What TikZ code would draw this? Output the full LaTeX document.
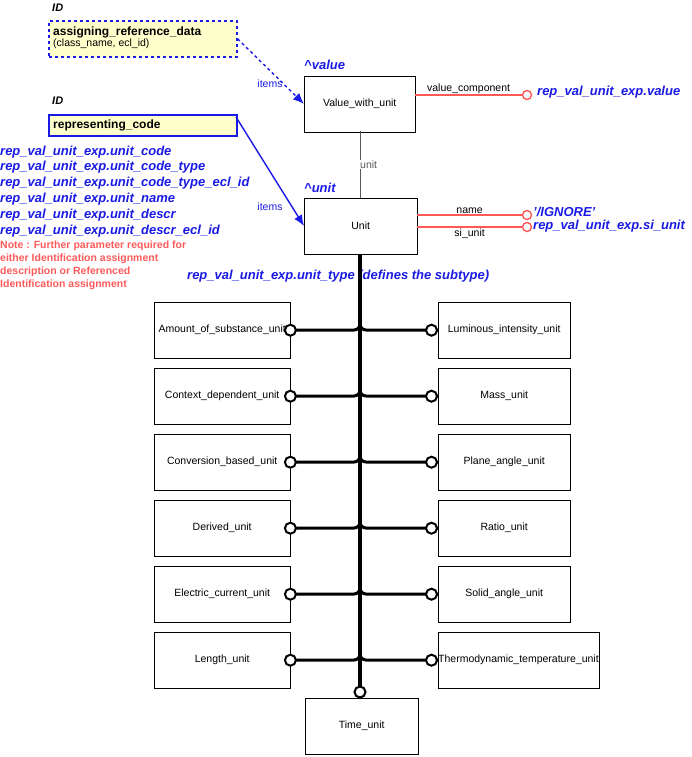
\documentclass[tikz,border=0pt]{standalone}
\usepackage{fontspec}
\setmainfont{Liberation Sans}
\usetikzlibrary{arrows.meta}
\definecolor{fy}{HTML}{FFFFCC}
\definecolor{bl}{HTML}{1A1AE6}
\definecolor{rd}{HTML}{FF5A5A}
\begin{document}
\begin{tikzpicture}[x=1pt,y=-1pt,
 box/.style={draw,fill=white,minimum width=#1,minimum height=56,inner sep=0,font=\fontsize{10.5}{12}\selectfont},
 lab/.style={font=\fontsize{13}{15}\selectfont\bfseries\itshape,text=bl,anchor=west,inner sep=0},
 small/.style={font=\fontsize{10.5}{12}\selectfont,inner sep=1},
 br/.style={line width=3pt,rounded corners=6pt},
 circ/.style={circle,draw,line width=2pt,fill=white,inner sep=0,minimum size=11},
 rc/.style={circle,draw=rd,line width=1.4pt,fill=white,inner sep=0,minimum size=9}]
\useasboundingbox (0,0) rectangle (691,757);
% top boxes
\node[draw=bl,dashed,line width=1.6pt,fill=fy,minimum width=188,minimum height=36,anchor=north west,inner sep=0] (ard) at (48,20) {};
\node[anchor=west,inner sep=0,font=\fontsize{12}{14}\selectfont\bfseries] at (53,32) {assigning\_reference\_data};
\node[anchor=west,inner sep=0,font=\fontsize{10.5}{12}\selectfont] at (53,44) {(class\_name, ecl\_id)};
\node[draw=bl,line width=1.6pt,fill=fy,minimum width=188,minimum height=21,anchor=north west,inner sep=0] (rc) at (48,114) {};
\node[anchor=west,inner sep=0,font=\fontsize{12}{14}\selectfont\bfseries] at (53,125) {representing\_code};
\node[anchor=west,inner sep=0,font=\fontsize{11}{13}\selectfont\bfseries\itshape] at (52,8) {ID};
\node[anchor=west,inner sep=0,font=\fontsize{11}{13}\selectfont\bfseries\itshape] at (52,101) {ID};
% main boxes
\node[box=111,anchor=north west] (vwu) at (304,76) {Value\_with\_unit};
\node[box=113,anchor=north west] (unit) at (304,198) {Unit};
\node[lab] at (304,65) {\textasciicircum value};
\node[lab] at (304,188) {\textasciicircum unit};
\coordinate (vb) at (360,131);
\coordinate (ut) at (360,198);
\draw[gray!70!black] (vb) -- node[small,right=-1pt,fill=white]{unit} (ut);
% arrows
\coordinate (a1) at (304,104);
\coordinate (a2) at (304,226);
\coordinate (s2) at (236,117);
\draw[bl,dashed,line width=1.4pt,-{Latex[length=11pt,width=9pt]}] (ard.east) -- (a1);
\draw[bl,line width=1.4pt,-{Latex[length=11pt,width=9pt]}] (s2) -- (a2);
\node[small,text=bl] at (270,84) {items};
\node[small,text=bl] at (270,207) {items};
% left texts
\foreach \tx [count=\k] in {rep\_val\_unit\_exp.unit\_code,rep\_val\_unit\_exp.unit\_code\_type,rep\_val\_unit\_exp.unit\_code\_type\_ecl\_id,rep\_val\_unit\_exp.unit\_name,rep\_val\_unit\_exp.unit\_descr,rep\_val\_unit\_exp.unit\_descr\_ecl\_id}
  \node[lab] at (0,136+15.8*\k) {\tx};
\foreach \tx [count=\k] in {Note : Further parameter required for,either Identification assignment,description or Referenced,Identification assignment}
  \node[anchor=west,inner sep=0,text=rd,font=\fontsize{10.5}{12}\selectfont\bfseries] at (0,233+13*\k) {\tx};
\node[lab] at (187,276) {rep\_val\_unit\_exp.unit\_type (defines the subtype)};
% red connectors
\node[rc] (c1) at (527,95) {};
\node[rc] (c2) at (527,215) {};
\node[rc] (c3) at (527,227) {};
\draw[rd,line width=1.2pt] (vwu.east |- c1) -- node[small,above,text=black]{value\_component} (c1);
\draw[rd,line width=1.2pt] (unit.east |- c2) -- node[small,above,text=black]{name} (c2);
\draw[rd,line width=2pt] (unit.east |- c3) -- node[small,below,text=black]{si\_unit} (c3);
\node[lab] at (537,92) {rep\_val\_unit\_exp.value};
\node[lab] at (533,212) {'/IGNORE'};
\node[lab] at (533,226) {rep\_val\_unit\_exp.si\_unit};
% trunk
\coordinate (ub) at (360,254);
\coordinate (te) at (360,692);
\draw[line width=4pt] (ub) -- (te);
% subtypes
\foreach \lt/\rt [count=\k] in {Amount\_of\_substance\_unit/Luminous\_intensity\_unit,Context\_dependent\_unit/Mass\_unit,Conversion\_based\_unit/Plane\_angle\_unit,Derived\_unit/Ratio\_unit,Electric\_current\_unit/Solid\_angle\_unit,Length\_unit/Thermodynamic\_temperature\_unit}{
  \pgfmathsetmacro{\yy}{302+66*(\k-1)}
  \pgfmathsetmacro{\yb}{322+66*(\k-1)}
  \pgfmathsetmacro{\yc}{330+66*(\k-1)}
  \node[box=136,anchor=north west] (L\k) at (154,\yy) {\lt};
  \node[box=132,anchor=north west] (R\k) at (438,\yy) {\rt};
  \coordinate (j\k) at (360,\yb);
  \coordinate (k\k) at (360,\yc);
  \draw[br] (j\k) -- (k\k) -- (L\k.east);
  \draw[br] (j\k) -- (k\k) -- (R\k.west);
  \node[circ] at (L\k.east) {};
  \node[circ,anchor=east] at (R\k.west) {};
}
\node[box=113,anchor=north west] (tu) at (305,698) {Time\_unit};
\node[circ] at (te) {};
\end{tikzpicture}
\end{document}
